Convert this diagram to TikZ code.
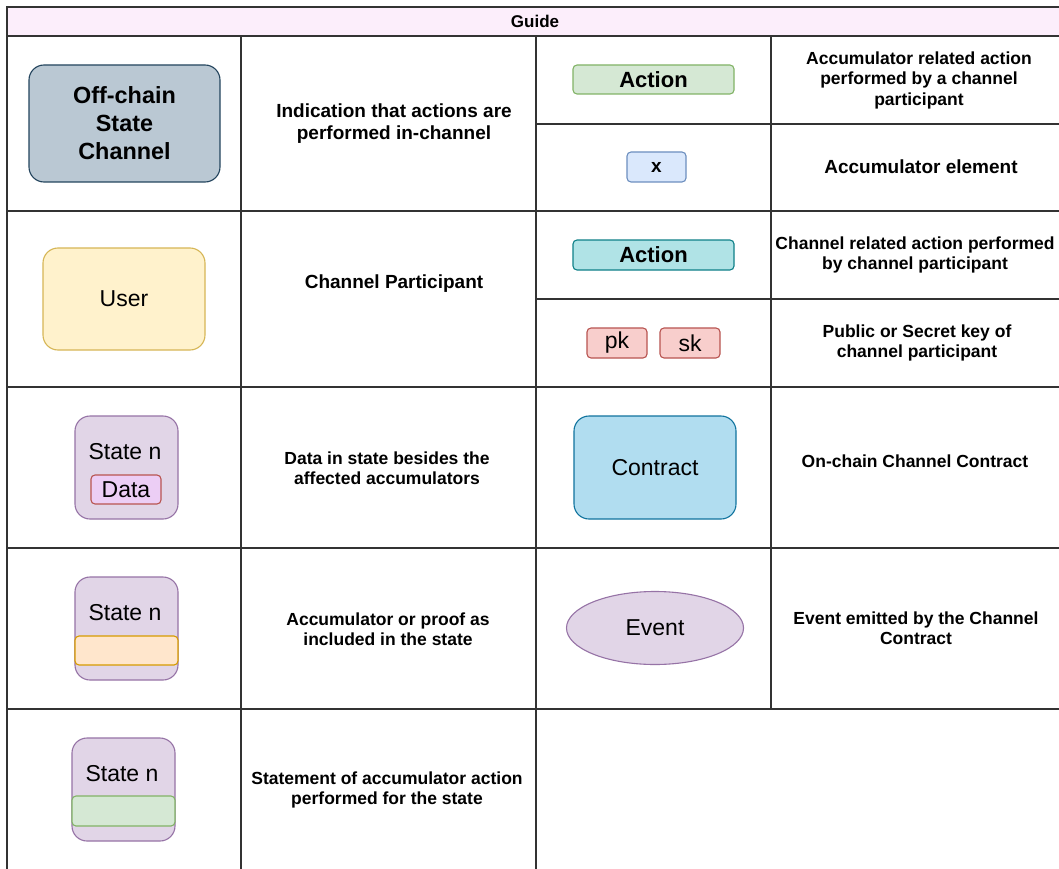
\documentclass[tikz,border=0pt]{standalone}
\usepackage{fontspec}
\setmainfont{Liberation Sans}
\usetikzlibrary{shapes.geometric}
\definecolor{gridc}{HTML}{333333}
\definecolor{headfill}{HTML}{FCEEFB}
\definecolor{offfill}{HTML}{BAC8D3}
\definecolor{offdraw}{HTML}{23445D}
\definecolor{greenfill}{HTML}{D5E8D4}
\definecolor{greendraw}{HTML}{82B366}
\definecolor{bluefill}{HTML}{DAE8FC}
\definecolor{bluedraw}{HTML}{6C8EBF}
\definecolor{yellowfill}{HTML}{FFF2CC}
\definecolor{yellowdraw}{HTML}{D6B656}
\definecolor{tealfill}{HTML}{B0E3E6}
\definecolor{tealdraw}{HTML}{0E8088}
\definecolor{redfill}{HTML}{F8CECC}
\definecolor{reddraw}{HTML}{B85450}
\definecolor{cfill}{HTML}{B1DDF0}
\definecolor{cdraw}{HTML}{10739E}
\definecolor{purplefill}{HTML}{E1D5E7}
\definecolor{purpledraw}{HTML}{9673A6}
\definecolor{datafill}{HTML}{ECCEF5}
\definecolor{orangefill}{HTML}{FFE6CC}
\definecolor{orangedraw}{HTML}{D79B00}
\tikzset{
  grid/.style={draw=gridc, line width=1.4pt},
  shapebox/.style={rectangle, inner sep=0pt, line width=1.1pt, align=center},
  desc/.style={font=\fontsize{17.5}{20.5}\selectfont\bfseries, align=center, inner sep=0pt},
  descbig/.style={font=\fontsize{19}{22}\selectfont\bfseries, align=center, inner sep=0pt},
  bigbold/.style={font=\fontsize{23.4}{28}\selectfont\bfseries},
  boldlabel/.style={font=\fontsize{22}{25}\selectfont\bfseries},
  plainlabel/.style={font=\fontsize{23}{26}\selectfont},
  statebox/.style={shapebox, fill=purplefill, draw=purpledraw, minimum width=103pt, minimum height=103pt, rounded corners=15pt},
  strip/.style={shapebox, minimum width=103pt, rounded corners=4pt},
}
\begin{document}
\begin{tikzpicture}[x=1pt,y=-1pt]
\useasboundingbox (0,0) rectangle (1059,869);
\clip (0,0) rectangle (1059,869);
\fill[white] (0,0) rectangle (1059,869);
% header
\fill[headfill] (7,7) rectangle (1070,36);
\node[font=\fontsize{17}{20}\selectfont\bfseries] (guide) at (535,21) {Guide};
% grid lines
\draw[grid] (1070,7) -- (7,7) -- (7,875);
\draw[grid] (7,36) -- (1070,36);
\draw[grid] (7,211) -- (1070,211);
\draw[grid] (7,387) -- (1070,387);
\draw[grid] (7,548) -- (1070,548);
\draw[grid] (7,709) -- (1070,709);
\draw[grid] (536,124) -- (1070,124);
\draw[grid] (536,299) -- (1070,299);
\draw[grid] (241,36) -- (241,875);
\draw[grid] (536,36) -- (536,875);
\draw[grid] (771,36) -- (771,709);

% row 1 left
\node[shapebox, fill=offfill, draw=offdraw, minimum width=191pt, minimum height=117pt, rounded corners=15pt, bigbold] (offchain) at (124.5,123.5) {Off-chain\\State\\Channel};
\node[descbig] (d1) at (394,124) {Indication that actions are\\performed in-channel};
% right rows
\node[shapebox, fill=greenfill, draw=greendraw, minimum width=161pt, minimum height=29pt, rounded corners=4pt, boldlabel] (act1) at (653.5,79.5) {Action};
\node[desc] (d2) at (919,80) {Accumulator related action\\performed by a channel\\participant};
\node[shapebox, fill=bluefill, draw=bluedraw, minimum width=59pt, minimum height=30pt, rounded corners=4pt, font=\fontsize{19}{22}\selectfont\bfseries] (xel) at (656.5,167) {x};
\node[descbig] (d3) at (921,167) {Accumulator element};
% row 2 left
\node[shapebox, fill=yellowfill, draw=yellowdraw, minimum width=162pt, minimum height=102pt, rounded corners=15pt, plainlabel] (user) at (124,299) {User};
\node[descbig] (d4) at (394,284) {Channel Participant};
\node[shapebox, fill=tealfill, draw=tealdraw, minimum width=161pt, minimum height=30pt, rounded corners=4pt, boldlabel] (act2) at (653.5,255) {Action};
\node[desc] (d5) at (915,255) {Channel related action performed\\by channel participant};
\node[shapebox, fill=redfill, draw=reddraw, minimum width=60pt, minimum height=30pt, rounded corners=4pt, plainlabel] (pk) at (617,343) {pk};
\node[shapebox, fill=redfill, draw=reddraw, minimum width=60pt, minimum height=30pt, rounded corners=4pt, plainlabel] (sk) at (690,343) {sk};
\node[desc] (d6) at (917,343) {Public or Secret key of\\channel participant};
% row 3
\node[statebox] (st1) at (126.5,467.5) {};
\node[plainlabel] (st1t) at (125,452) {State n};
\node[shapebox, fill=datafill, draw=reddraw, minimum width=70pt, minimum height=29pt, rounded corners=4pt, plainlabel] (data) at (126,489.5) {Data};
\node[desc] (d8) at (387,468) {Data in state besides the\\affected accumulators};
\node[shapebox, fill=cfill, draw=cdraw, minimum width=162pt, minimum height=103pt, rounded corners=15pt, plainlabel] (contract) at (655,467.5) {Contract};
\node[desc] (d7) at (915,461) {On-chain Channel Contract};
% row 4
\node[statebox] (st2) at (126.5,628.5) {};
\node[plainlabel] (st2t) at (125,613) {State n};
\node[strip, fill=orangefill, draw=orangedraw, minimum height=29pt] (acc) at (126.5,650.5) {};
\node[desc] (d9) at (388,629) {Accumulator or proof as\\included in the state};
\node[ellipse, inner sep=0pt, line width=1.1pt, fill=purplefill, draw=purpledraw, minimum width=177pt, minimum height=73pt, plainlabel] (event) at (655,628) {Event};
\node[desc] (d11) at (916,628) {Event emitted by the Channel\\Contract};
% row 5
\node[statebox] (st3) at (123.5,789.5) {};
\node[plainlabel] (st3t) at (122,774) {State n};
\node[strip, fill=greenfill, draw=greendraw, minimum height=30pt] (stmt) at (123.5,811) {};
\node[desc] (d10) at (387,790) {Statement of accumulator action\\performed for the state};
\end{tikzpicture}
\end{document}
